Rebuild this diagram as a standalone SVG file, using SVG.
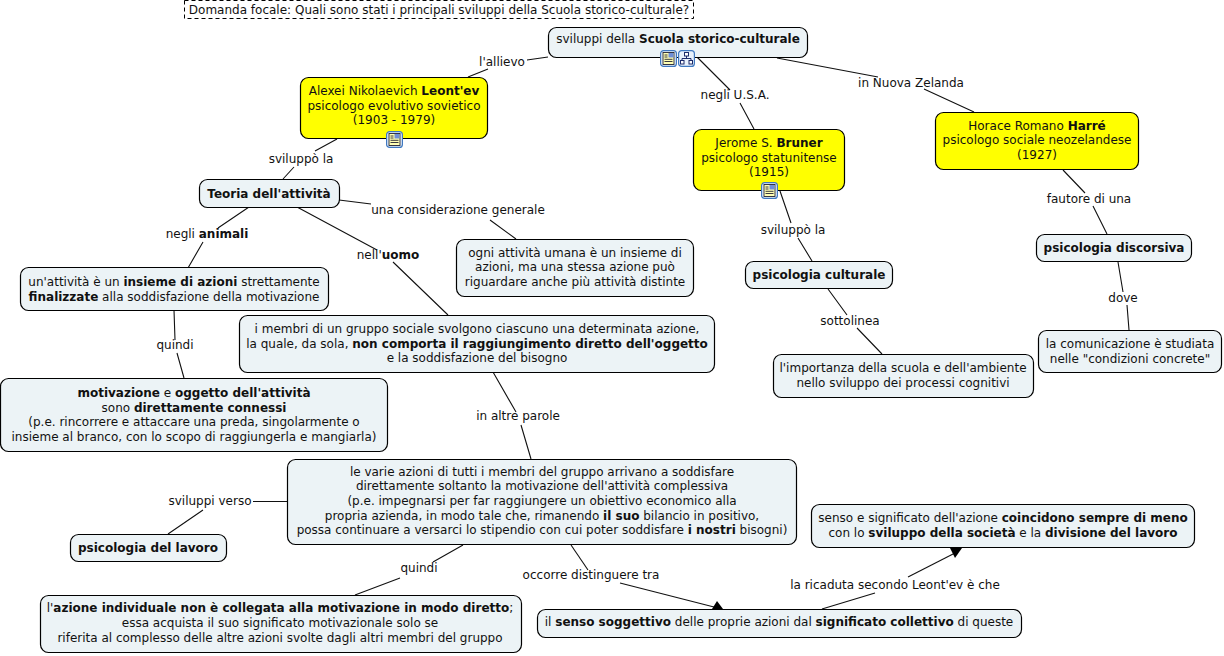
<svg xmlns="http://www.w3.org/2000/svg" xmlns:xlink="http://www.w3.org/1999/xlink" width="1224" height="656" viewBox="0 0 1224 656">
<style>
text{font-family:"DejaVu Sans",Verdana,sans-serif;font-size:12px;fill:#111;text-anchor:middle}
.b{font-weight:bold}
.n{fill:#ecf3f6;stroke:#000;stroke-width:1.2}
.y{fill:#ffff00;stroke:#000;stroke-width:1.2}
.c{fill:none;stroke:#111;stroke-width:1.1}
.h{fill:#000;stroke:none}
.f{fill:#e8f1fb;stroke:#3f78c0;stroke-width:1.2}
</style>
<defs>
<g id="note"><rect class="f" x="0.600" y="0.600" width="15.800" height="15.800" rx="3"/><rect x="3" y="2.500" width="11" height="12" fill="#ffffb4" stroke="#223" stroke-width=".9"/><rect x="8.500" y="3" width="5" height="4.500" fill="#6f8fd8"/><path d="M4.500,5h3M4.500,7h3M4.500,9.300h8M4.500,11.500h8" stroke="#223" stroke-width=".9"/></g>
<g id="tree"><rect class="f" x="0.600" y="0.600" width="15.800" height="15.800" rx="3"/><path d="M8.500,5.500V8.500M4,11V8.500H13V11" fill="none" stroke="#1c2a6a" stroke-width="1"/><rect x="6.500" y="2.500" width="4" height="3.500" fill="#fff" stroke="#1c2a6a" stroke-width="1"/><rect x="2.500" y="10.500" width="3.500" height="3.500" fill="#fff" stroke="#1c2a6a" stroke-width="1"/><rect x="11" y="10.500" width="3.500" height="3.500" fill="#fff" stroke="#1c2a6a" stroke-width="1"/></g>
</defs>
<g id="connectors" class="c">
<path d="M548,57L527,60M488,69L468,77"/>
<path d="M337,139L315,151M294,167L283,179"/>
<path d="M339,200L371,204M490,220L516,239"/>
<path d="M249,207L218,228M203,242L188,268"/>
<path d="M297,207L377,250M393,262L448,315"/>
<path d="M174,310L175,340M177,353L184,378"/>
<path d="M493,372L516,412M521,425L531,459"/>
<path d="M287,501.500L253,501.500M203,510L168,534"/>
<path d="M463,545L433,562M400,578L355,595"/>
<path d="M571,545L588,570"/>
<path d="M620,583L714,607"/>
<polygon class="h" points="712,609 723,609 717,601"/>
<path d="M822,609L875,593"/>
<path d="M908,577L955,553"/>
<polygon class="h" points="950,548 962,548 955,558"/>
<path d="M697,57L730,90M740,103L754,129"/>
<path d="M777,58L878,77M924,89L974,112"/>
<path d="M780,191L791,223M798,238L812,261"/>
<path d="M828,289L847,315M857,328L882,354"/>
<path d="M1063,170L1085,193M1093,206L1107,234"/>
<path d="M1118,262L1123,292M1127,305L1129,330"/>
</g>
<g id="connector-labels">
<text x="502" y="66">l'allievo</text>
<text x="301" y="163">sviluppò la</text>
<text x="458" y="214">una considerazione generale</text>
<text x="207" y="238">negli <tspan class="b">animali</tspan></text>
<text x="388" y="259">nell'<tspan class="b">uomo</tspan></text>
<text x="175" y="349">quindi</text>
<text x="518" y="420">in altre parole</text>
<text x="210" y="505">sviluppi verso</text>
<text x="419" y="572">quindi</text>
<text x="591" y="579">occorre distinguere tra</text>
<text x="895" y="589">la ricaduta secondo Leont'ev è che</text>
<text x="735" y="99">negli U.S.A.</text>
<text x="911" y="87">in Nuova Zelanda</text>
<text x="793" y="234">sviluppò la</text>
<text x="850" y="325">sottolinea</text>
<text x="1089" y="203">fautore di una</text>
<text x="1123" y="302">dove</text>
</g>
<g id="focal"><rect x="184.500" y="0.500" width="509" height="18" fill="#fff" stroke="#000" stroke-dasharray="4 3"/><text x="439" y="14">Domanda focale: Quali sono stati i principali sviluppi della Scuola storico-culturale?</text></g>
<g id="root"><rect class="n" x="548.500" y="27.500" width="259" height="30" rx="8"/><text x="678" y="43">sviluppi della <tspan class="b">Scuola storico-culturale</tspan></text><use xlink:href="#note" href="#note" x="660" y="50"/><use xlink:href="#tree" href="#tree" x="678" y="50"/></g>
<g id="leontev"><rect class="y" x="300.500" y="77.500" width="187" height="61" rx="8"/><text x="394" y="95">Alexei Nikolaevich <tspan class="b">Leont'ev</tspan></text><text x="394" y="110">psicologo evolutivo sovietico</text><text x="394" y="124">(1903 - 1979)</text><use xlink:href="#note" href="#note" x="386" y="131"/></g>
<g id="bruner"><rect class="y" x="693.500" y="129.500" width="151" height="61" rx="8"/><text x="769" y="147">Jerome S. <tspan class="b">Bruner</tspan></text><text x="769" y="162">psicologo statunitense</text><text x="769" y="176">(1915)</text><use xlink:href="#note" href="#note" x="761" y="182"/></g>
<g id="harre"><rect class="y" x="935.500" y="112.500" width="203" height="57" rx="8"/><text x="1037" y="130">Horace Romano <tspan class="b">Harré</tspan></text><text x="1037" y="144">psicologo sociale neozelandese</text><text x="1037" y="159">(1927)</text></g>
<g id="teoria"><rect class="n" x="199.500" y="179.500" width="140" height="28" rx="8"/><text x="269" y="198" class="b">Teoria dell'attività</text></g>
<g id="considerazione"><rect class="n" x="456.500" y="239.500" width="237" height="57" rx="8"/><text x="575" y="257">ogni attività umana è un insieme di</text><text x="575" y="271">azioni, ma una stessa azione può</text><text x="575" y="286">riguardare anche più attività distinte</text></g>
<g id="animali"><rect class="n" x="20.500" y="267.500" width="308" height="43" rx="8"/><text x="174" y="286">un'attività è un <tspan class="b">insieme di azioni</tspan> strettamente</text><text x="174" y="301"><tspan class="b">finalizzate</tspan> alla soddisfazione della motivazione</text></g>
<g id="uomo"><rect class="n" x="239.500" y="315.500" width="475" height="57" rx="8"/><text x="477" y="333">i membri di un gruppo sociale svolgono ciascuno una determinata azione,</text><text x="477" y="348">la quale, da sola, <tspan class="b">non comporta il raggiungimento diretto dell'oggetto</tspan></text><text x="477" y="362">e la soddisfazione del bisogno</text></g>
<g id="motivazione"><rect class="n" x="0.500" y="378.500" width="387" height="73" rx="8"/><text x="194" y="397"><tspan class="b">motivazione</tspan> e <tspan class="b">oggetto dell'attività</tspan></text><text x="194" y="412">sono <tspan class="b">direttamente connessi</tspan></text><text x="194" y="426">(p.e. rincorrere e attaccare una preda, singolarmente o</text><text x="194" y="441">insieme al branco, con lo scopo di raggiungerla e mangiarla)</text></g>
<g id="varie"><rect class="n" x="287.500" y="459.500" width="509" height="85" rx="8"/><text x="542" y="476">le varie azioni di tutti i membri del gruppo arrivano a soddisfare</text><text x="542" y="490">direttamente soltanto la motivazione dell'attività complessiva</text><text x="542" y="505">(p.e. impegnarsi per far raggiungere un obiettivo economico alla</text><text x="542" y="520">propria azienda, in modo tale che, rimanendo <tspan class="b">il suo</tspan> bilancio in positivo,</text><text x="542" y="534">possa continuare a versarci lo stipendio con cui poter soddisfare <tspan class="b">i nostri</tspan> bisogni)</text></g>
<g id="lavoro"><rect class="n" x="70.500" y="534.500" width="156" height="27" rx="8"/><text x="148" y="552" class="b">psicologia del lavoro</text></g>
<g id="individuale"><rect class="n" x="40.500" y="595.500" width="481" height="57" rx="8"/><text x="280" y="612">l'<tspan class="b">azione individuale non è collegata alla motivazione in modo diretto</tspan>;</text><text x="280" y="627">essa acquista il suo significato motivazionale solo se</text><text x="280" y="642">riferita al complesso delle altre azioni svolte dagli altri membri del gruppo</text></g>
<g id="senso"><rect class="n" x="537.500" y="609.500" width="484" height="28" rx="8"/><text x="779" y="626">il <tspan class="b">senso soggettivo</tspan> delle proprie azioni dal <tspan class="b">significato collettivo</tspan> di queste</text></g>
<g id="coincidono"><rect class="n" x="811.500" y="504.500" width="383" height="43" rx="8"/><text x="1003" y="522">senso e significato dell'azione <tspan class="b">coincidono sempre di meno</tspan></text><text x="1003" y="537">con lo <tspan class="b">sviluppo della società</tspan> e la <tspan class="b">divisione del lavoro</tspan></text></g>
<g id="culturale"><rect class="n" x="745.500" y="261.500" width="147" height="27" rx="8"/><text x="819" y="279" class="b">psicologia culturale</text></g>
<g id="importanza"><rect class="n" x="773.500" y="354.500" width="260" height="43" rx="8"/><text x="903" y="372">l'importanza della scuola e dell'ambiente</text><text x="903" y="387">nello sviluppo dei processi cognitivi</text></g>
<g id="discorsiva"><rect class="n" x="1036.500" y="234.500" width="155" height="27" rx="8"/><text x="1114" y="252" class="b">psicologia discorsiva</text></g>
<g id="comunicazione"><rect class="n" x="1038.500" y="330.500" width="183" height="42" rx="8"/><text x="1130" y="348">la comunicazione è studiata</text><text x="1130" y="363">nelle "condizioni concrete"</text></g>
</svg>
